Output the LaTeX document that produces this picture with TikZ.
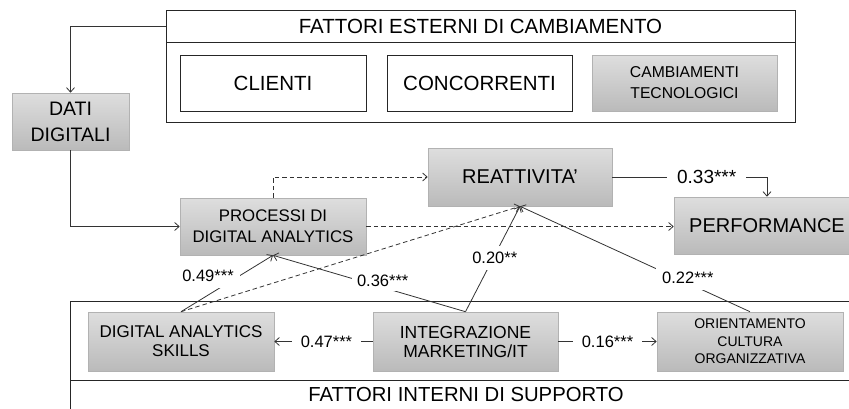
\documentclass[tikz,border=0pt]{standalone}
\usepackage{fontspec}
\setmainfont{Liberation Sans}
\usetikzlibrary{arrows.meta}
\begin{document}
\begin{tikzpicture}[x=1pt,y=-1pt,
  ln/.style={draw=black!80,line width=0.8pt},
  arr/.style={ln,-{Straight Barb[length=4.5pt,width=8pt]}},
  dsh/.style={arr,dash pattern=on 4.5pt off 3pt},
  wbox/.style={draw=black!85,line width=0.8pt,fill=white,inner sep=0pt,align=center},
  gbox/.style={draw=black!30,line width=0.6pt,top color=black!13,bottom color=black!27,
    inner sep=0pt,align=center},
  lbl/.style={fill=white,inner xsep=9pt,inner ysep=3pt,font=\fontsize{16.5}{18}\selectfont},
  slbl/.style={lbl,inner sep=6pt},
]
\clip (0,0) rectangle (849,408);
\fill[white] (0,0) rectangle (849,408);

% external factors frame
\node[wbox,minimum width=629,minimum height=112] (ext) at (480.5,66) {};
\node[wbox,minimum width=629,minimum height=32,font=\fontsize{20.5}{24}\selectfont]
  (exttitle) at (480.5,26) {FATTORI ESTERNI DI CAMBIAMENTO};
\node[wbox,minimum width=186,minimum height=56,font=\fontsize{20.5}{24}\selectfont]
  (clienti) at (273,83) {CLIENTI};
\node[wbox,minimum width=185,minimum height=56,font=\fontsize{20.5}{24}\selectfont]
  (conc) at (479.5,83) {CONCORRENTI};
\node[gbox,minimum width=185,minimum height=56,font=\fontsize{15.7}{21}\selectfont]
  (camb) at (684.5,83) {CAMBIAMENTI\\TECNOLOGICI};

% internal factors frame
\node[wbox,minimum width=792,minimum height=109] (int) at (466,355.5) {};
\node[wbox,minimum width=792,minimum height=30,font=\fontsize{20.3}{24}\selectfont]
  (inttitle) at (466,395) {FATTORI INTERNI DI SUPPORTO};

% main nodes
\node[gbox,minimum width=117,minimum height=57,font=\fontsize{19.5}{26}\selectfont]
  (dati) at (70.5,121.5) {DATI\\DIGITALI};
\node[gbox,minimum width=186,minimum height=57,font=\fontsize{16.8}{21}\selectfont]
  (proc) at (273,226.5) {PROCESSI DI\\DIGITAL ANALYTICS};
\node[gbox,minimum width=184,minimum height=58,font=\fontsize{20}{24}\selectfont]
  (reatt) at (520,177) {REATTIVITA'};
\node[gbox,minimum width=186,minimum height=57,font=\fontsize{20}{24}\selectfont]
  (perf) at (767,225.5) {PERFORMANCE};
\node[gbox,minimum width=186,minimum height=59,font=\fontsize{17}{19}\selectfont]
  (das) at (181,341.5) {DIGITAL ANALYTICS\\SKILLS};
\node[gbox,minimum width=185,minimum height=59,font=\fontsize{17.5}{19}\selectfont]
  (integ) at (465.5,341.5) {INTEGRAZIONE\\MARKETING/IT};
\node[gbox,minimum width=186,minimum height=59,font=\fontsize{14}{17.5}\selectfont]
  (orient) at (750,341.5) {ORIENTAMENTO\\CULTURA\\ORGANIZZATIVA};

% solid connectors
\draw[arr] (exttitle.west) -| (dati.north);
\draw[arr] (dati.south) |- (proc.west);
\draw[arr] (reatt.east) -| node[lbl,pos=0.305,inner xsep=10pt,font=\fontsize{19}{22}\selectfont]{0.33***} (perf.north);
\draw[arr] (integ.west) -- node[lbl,pos=0.47]{0.47***} (das.east);
\draw[arr] (integ.east) -- node[lbl]{0.16***} (orient.west);
\draw[arr] (das.north) -- node[slbl,pos=0.5,xshift=-19pt,yshift=7.5pt]{0.49***} (proc.south);
\draw[arr] (integ.north) -- node[slbl,pos=0.43,yshift=7pt,inner sep=5pt]{0.36***} (proc.south);
\draw[arr] (integ.north) -- node[slbl,pos=0.5,xshift=2pt,yshift=1pt]{0.20**} (reatt.south);
\draw[arr] (orient.north) -- node[slbl,pos=0.27,yshift=5pt]{0.22***} (reatt.south);

% dashed connectors
\draw[dsh] (proc.north) |- (reatt.west);
\draw[dsh] (proc.east) -- (proc.east -| perf.west);
\draw[dsh] (das.north) -- (reatt.south);
\end{tikzpicture}
\end{document}
